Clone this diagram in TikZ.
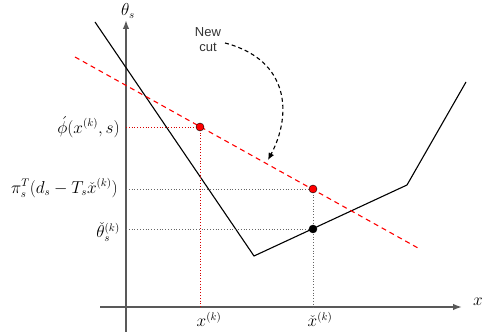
\documentclass[tikz,border=0pt]{standalone}
\usepackage{fontspec}
\newfontfamily\helv{Liberation Sans}
\usetikzlibrary{arrows.meta}
\begin{document}
\begin{tikzpicture}[x=1pt,y=-1pt,font=\fontsize{16pt}{19pt}\selectfont,
  axis/.style={draw=black!65,line width=1.6pt,-{Latex[length=9pt,width=6.5pt]}},
  curve/.style={draw=black,line width=1.1pt},
  cutline/.style={draw=red,dashed,line width=1.1pt,dash pattern=on 5pt off 4pt},
  rdot/.style={draw=red!85!black,dotted,line width=0.8pt},
  gdot/.style={draw=black!60,dotted,line width=0.8pt},
  pt/.style={circle,inner sep=0pt,minimum size=8pt,draw=black},
  lbl/.style={inner sep=1pt}]
\useasboundingbox (0,0) rectangle (487,336);
% axes
\coordinate (xs) at (100,307);
\coordinate (xe) at (462,307);
\coordinate (ys) at (126,332);
\coordinate (ye) at (126,20);
\draw[axis] (xs) -- (xe);
\draw[axis] (ys) -- (ye);
\node[lbl] (xl) at (478,302) {$x$};
\node[lbl] (yl) at (128,11) {$\theta_s$};
% piecewise function
\coordinate (p0) at (95,22);
\coordinate (p1) at (254,256);
\coordinate (p2) at (407,185);
\coordinate (p3) at (466,82);
\draw[curve] (p0) -- (p1) -- (p2) -- (p3);
% cut
\coordinate (c0) at (75,57);
\coordinate (c1) at (418,248);
\draw[cutline] (c0) -- (c1);
% points and guides
\coordinate (a1) at (126,127);
\coordinate (a2) at (126,189);
\coordinate (a3) at (126,229);
\coordinate (b1) at (200,307);
\coordinate (b2) at (313,307);
\coordinate (r1) at (200,127);
\coordinate (r2) at (313,189);
\coordinate (k1) at (313,229);
\draw[rdot] (a1) -- (r1);
\draw[rdot] (r1) -- (b1);
\draw[gdot] (a2) -- (r2);
\draw[gdot] (a3) -- (k1);
\draw[gdot] (r2) -- (b2);
\node[pt,fill=red] (dr1) at (r1) {};
\node[pt,fill=red] (dr2) at (r2) {};
\node[pt,fill=black] (dk1) at (k1) {};
% labels
\node[lbl,anchor=east] (l1) at (121,127) {$\acute{\phi}(x^{(k)},s)$};
\node[lbl,anchor=east] (l2) at (119,188) {$\pi_s^T(d_s-T_s\check{x}^{(k)})$};
\node[lbl,anchor=east] (l3) at (121,232) {$\check{\theta}_s^{(k)}$};
\node[lbl,anchor=north] (l4) at (209,311) {$x^{(k)}$};
\node[lbl,anchor=north] (l5) at (320,311) {$\check{x}^{(k)}$};
% new cut annotation
\node[lbl,align=center,font=\helv\fontsize{13pt}{15pt}\selectfont,text=black!80] (nc) at (208,40) {New\\cut};
\coordinate (ae) at (268,160);
\draw[dashed,line width=1.1pt,dash pattern=on 4pt off 3pt,-{Latex[length=7pt,width=6pt]}]
  (225,43) .. controls (290,60) and (292,115) .. (ae);
\end{tikzpicture}
\end{document}
